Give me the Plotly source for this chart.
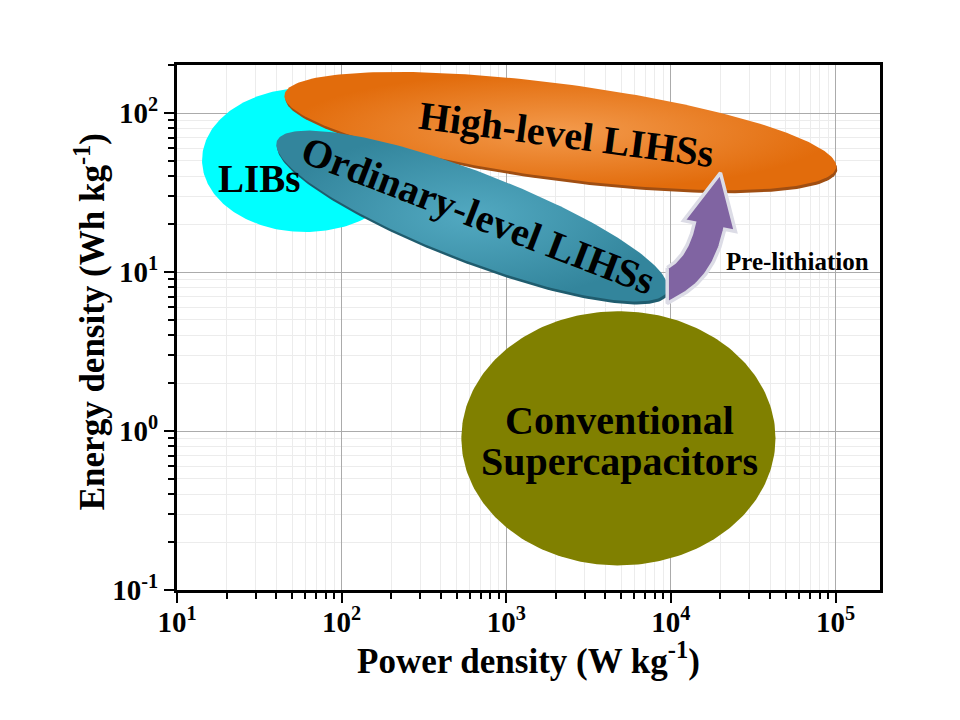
import numpy as np
import plotly.graph_objects as go

# ---------------- data ----------------
# Ragone regions: centre (power W/kg, energy Wh/kg), half-extent in decades, tilt (deg)
region_names = ["Conventional Supercapacitors", "LIBs", "High-level LIHSs", "Ordinary-level LIHSs"]
region_power_center = [4800, 60, 2130, 620]
region_energy_center = [0.90, 50.6, 77.0, 22.5]
region_half_major = [0.954, 0.626, 1.69, 1.27]
region_half_minor = [0.772, 0.437, 0.286, 0.267]
region_tilt = [0, 0, -7.5, -21]

# Pre-lithiation arrow: tail, bend control, head base, tip
arrow_power = [10590, 15280, 17160, 20000]
arrow_energy = [8.77, 10.94, 19.46, 42.0]

# Labels
label_text = ["LIBs", "High-level LIHSs", "Ordinary-level LIHSs", "Pre-lithiation",
              "Conventional", "Supercapacitors"]
label_power = [31.3, 2323, 678, 58900, 4877, 4877]
label_energy = [39.0, 72.8, 22.8, 11.6, 1.172, 0.647]

x_title = "Power density (W kg<sup>-1</sup>)"
y_title = "Energy density (Wh kg<sup>-1</sup>)"
x_tick_vals = [1e1, 1e2, 1e3, 1e4, 1e5]
x_tick_text = ["10<sup>1</sup>", "10<sup>2</sup>", "10<sup>3</sup>", "10<sup>4</sup>", "10<sup>5</sup>"]
y_tick_vals = [1e-1, 1e0, 1e1, 1e2]
y_tick_text = ["10<sup>-1</sup>", "10<sup>0</sup>", "10<sup>1</sup>", "10<sup>2</sup>"]

# ---------------- layout geometry ----------------
W, H = 960, 720
ML, MR, MT, MB = 169, 88, 57, 138
XR = [1.0, 5.27]
YR = [-1.0, 2.302]
PW, PH = W - ML - MR, H - MT - MB
kx = PW / (XR[1] - XR[0])
ky = PH / (YR[1] - YR[0])
r = ky / kx  # screen aspect between decades

FONT = "Liberation Serif"


def ellipse(xc, yc, a, b, tilt, n=240, du=0.0, dv=0.0):
    t = np.linspace(0, 2 * np.pi, n)
    th = np.radians(tilt)
    u0 = np.log10(xc) + du
    v0 = np.log10(yc) * r + dv
    u = u0 + a * np.cos(t) * np.cos(th) - b * np.sin(t) * np.sin(th)
    v = v0 + a * np.cos(t) * np.sin(th) + b * np.sin(t) * np.cos(th)
    return 10 ** u, 10 ** (v / r)


fig = go.Figure()

styles = {
    "Conventional Supercapacitors": dict(color="#808000"),
    "LIBs": dict(color="#00FFFF"),
    "High-level LIHSs": dict(grad=["#F39A4C", "#E26C0C"], shadow="#A04E12"),
    "Ordinary-level LIHSs": dict(grad=["#52A9C1", "#33859C"], shadow="#1F5C6E"),
}

for i, name in enumerate(region_names):
    st = styles[name]
    if "shadow" in st:
        sx, sy = ellipse(region_power_center[i], region_energy_center[i],
                         region_half_major[i], region_half_minor[i], region_tilt[i],
                         du=1.0 / kx, dv=-3.0 / kx)
        fig.add_trace(go.Scatter(x=sx, y=sy, mode="lines", fill="toself",
                                 fillcolor=st["shadow"], line=dict(width=0),
                                 hoverinfo="skip", showlegend=False))
    ex, ey = ellipse(region_power_center[i], region_energy_center[i],
                     region_half_major[i], region_half_minor[i], region_tilt[i])
    if "grad" in st:
        kw = dict(fillgradient=dict(type="radial",
                                    colorscale=[[0, st["grad"][0]], [1, st["grad"][1]]]))
    else:
        kw = dict(fillcolor=st["color"])
    fig.add_trace(go.Scatter(x=ex, y=ey, mode="lines", fill="toself", line=dict(width=0),
                             name=name, hoverinfo="name", showlegend=False, **kw))

# ---------------- curved arrow ----------------
P = np.array([[np.log10(p), np.log10(e) * r] for p, e in zip(arrow_power, arrow_energy)])
shaft_w = 31 / kx
head_w = 53 / kx
s = np.linspace(0, 1, 60)[:, None]
c = (1 - s) ** 2 * P[0] + 2 * (1 - s) * s * P[1] + s ** 2 * P[2]
d = 2 * (1 - s) * (P[1] - P[0]) + 2 * s * (P[2] - P[1])
d = d / np.linalg.norm(d, axis=1, keepdims=True)
nrm = np.column_stack([-d[:, 1], d[:, 0]])
left = c + nrm * shaft_w / 2
right = c - nrm * shaft_w / 2
# vertical cut at the tail
tcut = (right[0, 0] - left[0, 0]) / d[0, 0]
tail_pt = right[0] - d[0] * tcut
hd = P[3] - P[2]
hd = hd / np.linalg.norm(hd)
hn = np.array([-hd[1], hd[0]])
poly = np.vstack([left, P[2] + hn * head_w / 2, P[3], P[2] - hn * head_w / 2,
                  right[::-1], tail_pt[None, :], left[:1]])
fig.add_trace(go.Scatter(x=10 ** poly[:, 0], y=10 ** (poly[:, 1] / r), mode="lines",
                         fill="toself", fillcolor="#8064A2",
                         line=dict(color="#DCDCE6", width=3.5),
                         hoverinfo="skip", showlegend=False))

# ---------------- labels ----------------
label_angle = [0, 7.5, 21, 0, 0, 0]
label_size = [39, 40, 40, 25, 40, 40]
for t, p, e, a, sz in zip(label_text, label_power, label_energy, label_angle, label_size):
    fig.add_annotation(x=np.log10(p), y=np.log10(e), xref="x", yref="y", text=t,
                       showarrow=False, textangle=a,
                       font=dict(family=FONT, size=sz, color="black", weight="bold"))

# axis titles
fig.add_annotation(x=0.5, y=-68 / PH, xref="paper", yref="paper", text=x_title,
                   showarrow=False, xanchor="center", yanchor="middle",
                   font=dict(family=FONT, size=35, color="black", weight="bold"))
fig.add_annotation(x=-87 / PW, y=0.51, xref="paper", yref="paper", text=y_title,
                   showarrow=False, xanchor="center", yanchor="middle", textangle=-90,
                   font=dict(family=FONT, size=35, color="black", weight="bold"))

# ---------------- axes ----------------
def minor_vals(lo, hi):
    return [k * 10.0 ** e for e in range(lo, hi) for k in range(2, 10)]


axis_common = dict(
    type="log", showline=True, linecolor="black", linewidth=3, mirror=True,
    ticks="outside", ticklen=10, tickwidth=2, tickcolor="black",
    showgrid=True, gridcolor="#ABABAB", gridwidth=1, zeroline=False,
    tickfont=dict(family=FONT, size=29, color="black", weight="bold"),
)

fig.update_xaxes(
    range=XR, tickmode="array", tickvals=x_tick_vals, ticktext=x_tick_text,
    ticklabelstandoff=-6,
    minor=dict(tickmode="array", tickvals=minor_vals(1, 6), ticks="outside", ticklen=6,
               tickwidth=2, tickcolor="black", showgrid=True, gridcolor="#ECECEC", gridwidth=1),
    **axis_common)
fig.update_yaxes(
    range=YR, tickmode="array", tickvals=y_tick_vals, ticktext=y_tick_text,
    minor=dict(tickmode="array", tickvals=minor_vals(-1, 3), ticks="outside", ticklen=6,
               tickwidth=2, tickcolor="black", showgrid=True, gridcolor="#ECECEC", gridwidth=1),
    **axis_common)

fig.update_layout(
    width=W, height=H, margin=dict(l=ML, r=MR, t=MT, b=MB),
    plot_bgcolor="white", paper_bgcolor="white", showlegend=False,
)

fig.write_html("out.html")
